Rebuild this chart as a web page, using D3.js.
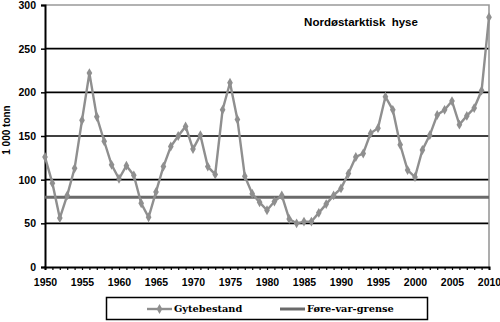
<!DOCTYPE html>
<html>
<head>
<meta charset="utf-8">
<script src="https://cdn.jsdelivr.net/npm/d3@7"></script>
<style>
body { margin: 0; background: #fff; }
svg { display: block; }
</style>
</head>
<body>
<div id="chart"></div>
<script>
// Nordøstarktisk hyse - gytebestand (1 000 tonn)
const years = d3.range(1950, 2011);
const gytebestand = [
    126, 96, 56, 82, 113, 168, 222, 172, 144, 117,
    101, 116, 105, 73, 57, 86, 115, 138, 150, 161,
    135, 151, 115, 106, 180, 211, 169, 104, 84, 74,
    65, 75, 82, 55, 50, 52, 52, 62, 72, 82,
    90, 107, 126, 130, 153, 159, 195, 180, 140, 111,
    103, 134, 151, 174, 180, 190, 163, 173, 182, 202,
    286
];
const foreVarGrense = 80;
const yTicks = [0, 50, 100, 150, 200, 250, 300];
const xLabels = [1950, 1955, 1960, 1965, 1970, 1975, 1980, 1985, 1990, 1995, 2000, 2005, 2010];
const title = "Nordøstarktisk  hyse";
const yLabel = "1 000 tonn";
const legendNames = ["Gytebestand", "Føre-var-grense"];

const W = 500, H = 322;
const margin = { left: 45, top: 5, right: 11, bottom: 55 };
const width = W - margin.left - margin.right;
const height = H - margin.top - margin.bottom;

const seriesColor = "#8f8f8f";
const limitColor = "#6a6a6a";
const sansFont = "Arial, 'Liberation Sans', sans-serif";
const serifFont = "'DejaVu Serif', serif";

let svg = d3.select("#chart").append("svg")
    .attr("width", W).attr("height", H);

let g = svg.append("g")
    .attr("transform", "translate(" + margin.left + "," + margin.top + ")");

let x = d3.scaleLinear().domain([1950, 2010]).range([0, width]);
let y = d3.scaleLinear().domain([0, 300]).range([height, 0]);

// gridlines
g.append("g")
    .selectAll("line")
    .data(yTicks.filter(d => d > 0 && d < 300))
    .join("line")
    .attr("x1", 0).attr("x2", width)
    .attr("y1", d => y(d)).attr("y2", d => y(d))
    .attr("stroke", "#000").attr("stroke-width", 1.6);

// plot border top/right (grey)
g.append("path")
    .attr("d", "M0," + y(300) + "H" + width + "V" + height)
    .attr("fill", "none")
    .attr("stroke", "#999").attr("stroke-width", 1.6);

function styleTicks(sel) {
    sel.selectAll("text")
	.style("font-family", sansFont)
	.style("font-weight", "bold")
	.style("font-size", "10.5px")
	.style("fill", "#000");
}

// y-axis
let yAxis = g.append("g")
    .call(d3.axisLeft(y).tickValues(yTicks).tickSize(4).tickPadding(5));
yAxis.select(".domain").attr("stroke", "#000").attr("stroke-width", 2);
yAxis.selectAll(".tick line").attr("stroke", "#000").attr("stroke-width", 1.5);
styleTicks(yAxis);

// x-axis
let xAxis = g.append("g")
    .attr("transform", "translate(0," + height + ")")
    .call(d3.axisBottom(x).tickValues(years).tickSize(3).tickPadding(9)
          .tickFormat(d => xLabels.includes(d) ? d : ""));
xAxis.select(".domain").attr("stroke", "#000").attr("stroke-width", 2);
xAxis.selectAll(".tick line").attr("stroke", "#000").attr("stroke-width", 1.2);
styleTicks(xAxis);

// føre-var-grense
g.append("line")
    .attr("x1", 0).attr("x2", width)
    .attr("y1", y(foreVarGrense)).attr("y2", y(foreVarGrense))
    .attr("stroke", limitColor).attr("stroke-width", 3);

// gytebestand
let data = years.map((yr, i) => ({ year: yr, value: gytebestand[i] }));
g.append("path")
    .datum(data)
    .attr("fill", "none")
    .attr("stroke", seriesColor)
    .attr("stroke-width", 2.4)
    .attr("d", d3.line().x(d => x(d.year)).y(d => y(d.value)));

let diamond = d3.symbol().type(d3.symbolDiamond).size(28);
g.append("g")
    .selectAll("path")
    .data(data)
    .join("path")
    .attr("transform", d => "translate(" + x(d.year) + "," + y(d.value) + ")")
    .attr("d", diamond)
    .attr("fill", seriesColor);

// title
g.append("text")
    .attr("x", 316).attr("y", 21)
    .attr("text-anchor", "middle")
    .style("font-family", sansFont)
    .style("font-weight", "bold")
    .style("font-size", "11.5px")
    .style("white-space", "pre")
    .text(title);

// y label
svg.append("text")
    .attr("transform", "translate(10,130) rotate(-90)")
    .attr("text-anchor", "middle")
    .style("font-family", sansFont)
    .style("font-weight", "bold")
    .style("font-size", "10px")
    .text(yLabel);

// legend
let legend = svg.append("g");
legend.append("rect")
    .attr("x", 106.5).attr("y", 297.5)
    .attr("width", 321).attr("height", 22)
    .attr("fill", "#fff")
    .attr("stroke", "#000").attr("stroke-width", 1.5);

let ly = 309;
legend.append("line")
    .attr("x1", 147).attr("x2", 172).attr("y1", ly).attr("y2", ly)
    .attr("stroke", seriesColor).attr("stroke-width", 2.4);
legend.append("path")
    .attr("transform", "translate(159.5," + ly + ")")
    .attr("d", diamond).attr("fill", seriesColor);

legend.append("line")
    .attr("x1", 280).attr("x2", 305).attr("y1", ly).attr("y2", ly)
    .attr("stroke", limitColor).attr("stroke-width", 3);

legend.selectAll("text")
    .data([{ name: legendNames[0], x: 174 }, { name: legendNames[1], x: 307 }])
    .join("text")
    .attr("x", d => d.x).attr("y", ly).attr("dy", "0.35em")
    .style("font-family", serifFont)
    .style("font-weight", "bold")
    .style("font-size", "9.8px")
    .style("fill", "#000")
    .text(d => d.name);
</script>
</body>
</html>
